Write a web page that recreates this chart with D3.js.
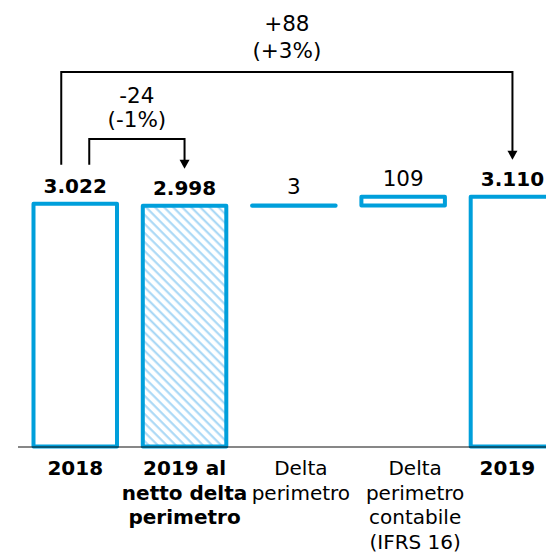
<!DOCTYPE html>
<html>
<head>
<meta charset="utf-8">
<script src="https://cdn.jsdelivr.net/npm/d3@7"></script>
<style>
  html, body { margin: 0; padding: 0; background: #fff; }
  svg { display: block; }
  text { font-family: "DejaVu Sans", Verdana, sans-serif; fill: #000; }
</style>
</head>
<body>
<svg id="chart" width="546" height="553"></svg>
<script>
// ---- data ----
const categories = ["2018", "2019 al netto delta perimetro", "Delta perimetro", "Delta perimetro contabile (IFRS 16)", "2019"];
const categoryLines = [["2018"], ["2019 al", "netto delta", "perimetro"], ["Delta", "perimetro"], ["Delta", "perimetro", "contabile", "(IFRS 16)"], ["2019"]];
const values = [3022, 2998, 3, 109, 3110];
const kinds = ["total", "total", "delta", "delta", "total"];
const hatched = [false, true, false, false, false];
const comparisons = [
  { from: 0, to: 4, level: 0 },
  { from: 0, to: 1, level: 1 }
];

// ---- layout ----
const W = 546, H = 553;
const blue = "#009FDB";
const svg = d3.select("#chart");

const loc = d3.formatLocale({ decimal: ",", thousands: ".", grouping: [3], currency: ["", "€"], minus: "-" });
const fmtVal = loc.format(",");
const fmtDelta = loc.format("+,");
const fmtPct = loc.format("+.0%");

const x = d3.scaleBand().domain(categories).range([20.6, 567.1]).paddingInner(0.236).paddingOuter(0.118);
const y = d3.scaleLinear().domain([0, 3500]).range([446.5, 446.5 - 3500 * 0.08034]);

// waterfall bases
let running = 0;
const bars = categories.map((c, i) => {
  let lo, hi;
  if (kinds[i] === "total") { lo = 0; hi = values[i]; running = values[i]; }
  else { lo = running; hi = running + values[i]; running = hi; }
  return { cat: c, lo, hi, v: values[i], kind: kinds[i], hatch: hatched[i], i };
});

// hatch pattern
const defs = svg.append("defs");
const pat = defs.append("pattern").attr("id", "hatch")
  .attr("patternUnits", "userSpaceOnUse").attr("width", 6.4).attr("height", 6.4)
  .attr("patternTransform", "rotate(-45)");
pat.append("rect").attr("width", 6.4).attr("height", 6.4).attr("fill", "#fff");
pat.append("line").attr("x1", 1.5).attr("y1", 0).attr("x2", 1.5).attr("y2", 6.4)
  .attr("stroke", "#a3d5f5").attr("stroke-width", 2);

// bars
svg.append("g").selectAll("rect").data(bars).join("rect")
  .attr("x", d => x(d.cat))
  .attr("y", d => y(d.hi))
  .attr("width", x.bandwidth())
  .attr("height", d => Math.max(0, y(d.lo) - y(d.hi)))
  .attr("fill", d => d.hatch ? "url(#hatch)" : "#fff")
  .attr("stroke", blue)
  .attr("stroke-width", 4)
  .attr("stroke-linejoin", "round");

// axis baseline
svg.append("line").attr("x1", 18).attr("x2", W).attr("y1", y(0) + 0.5).attr("y2", y(0) + 0.5)
  .attr("stroke", "#111").attr("stroke-width", 1.2);

// value labels
const labelY = d => y(d.hi) - 11;
svg.append("g").selectAll("text").data(bars).join("text")
  .attr("x", d => x(d.cat) + x.bandwidth() / 2)
  .attr("y", labelY)
  .attr("text-anchor", "middle")
  .attr("font-size", d => d.kind === "total" ? 20 : 21.5)
  .attr("font-weight", d => d.kind === "total" ? "bold" : "normal")
  .text(d => fmtVal(d.v));

// category labels
const catDx = [0, 0, 7, 12, -5];
const cg = svg.append("g");
categoryLines.forEach((lines, i) => {
  const t = cg.append("text")
    .attr("x", x(categories[i]) + x.bandwidth() / 2 + catDx[i])
    .attr("y", 475)
    .attr("text-anchor", "middle")
    .attr("font-size", 20)
    .attr("font-weight", kinds[i] === "total" ? "bold" : "normal");
  lines.forEach((ln, j) => {
    t.append("tspan").attr("x", x(categories[i]) + x.bandwidth() / 2 + catDx[i])
      .attr("y", 475 + j * 24.5).text(ln);
  });
});

// comparison brackets
const levelY = [72, 139];
const textY = [[31, 58], [103, 127]];
const leftOff = [-14, 14];
comparisons.forEach(c => {
  const a = bars[c.from], b = bars[c.to];
  const x0 = x(a.cat) + x.bandwidth() / 2 + leftOff[c.level];
  const x1 = x(b.cat) + x.bandwidth() / 2;
  const yTop = levelY[c.level];
  const yStart = labelY(a) - 28;
  const tip = labelY(b) - 26;
  svg.append("path")
    .attr("d", `M${x0},${yStart}V${yTop}H${x1}V${tip - 8}`)
    .attr("fill", "none").attr("stroke", "#000").attr("stroke-width", 2);
  svg.append("path")
    .attr("d", `M${x1 - 5},${tip - 9}L${x1 + 5},${tip - 9}L${x1},${tip}Z`)
    .attr("fill", "#000");
  const diff = b.v - a.v;
  const pct = diff / a.v;
  const cx = (x0 + x1) / 2;
  svg.append("text").attr("x", cx).attr("y", textY[c.level][0])
    .attr("text-anchor", "middle").attr("font-size", 21.5).text(fmtDelta(diff));
  svg.append("text").attr("x", cx).attr("y", textY[c.level][1])
    .attr("text-anchor", "middle").attr("font-size", 21.5).text("(" + fmtPct(pct) + ")");
});
</script>
</body>
</html>
